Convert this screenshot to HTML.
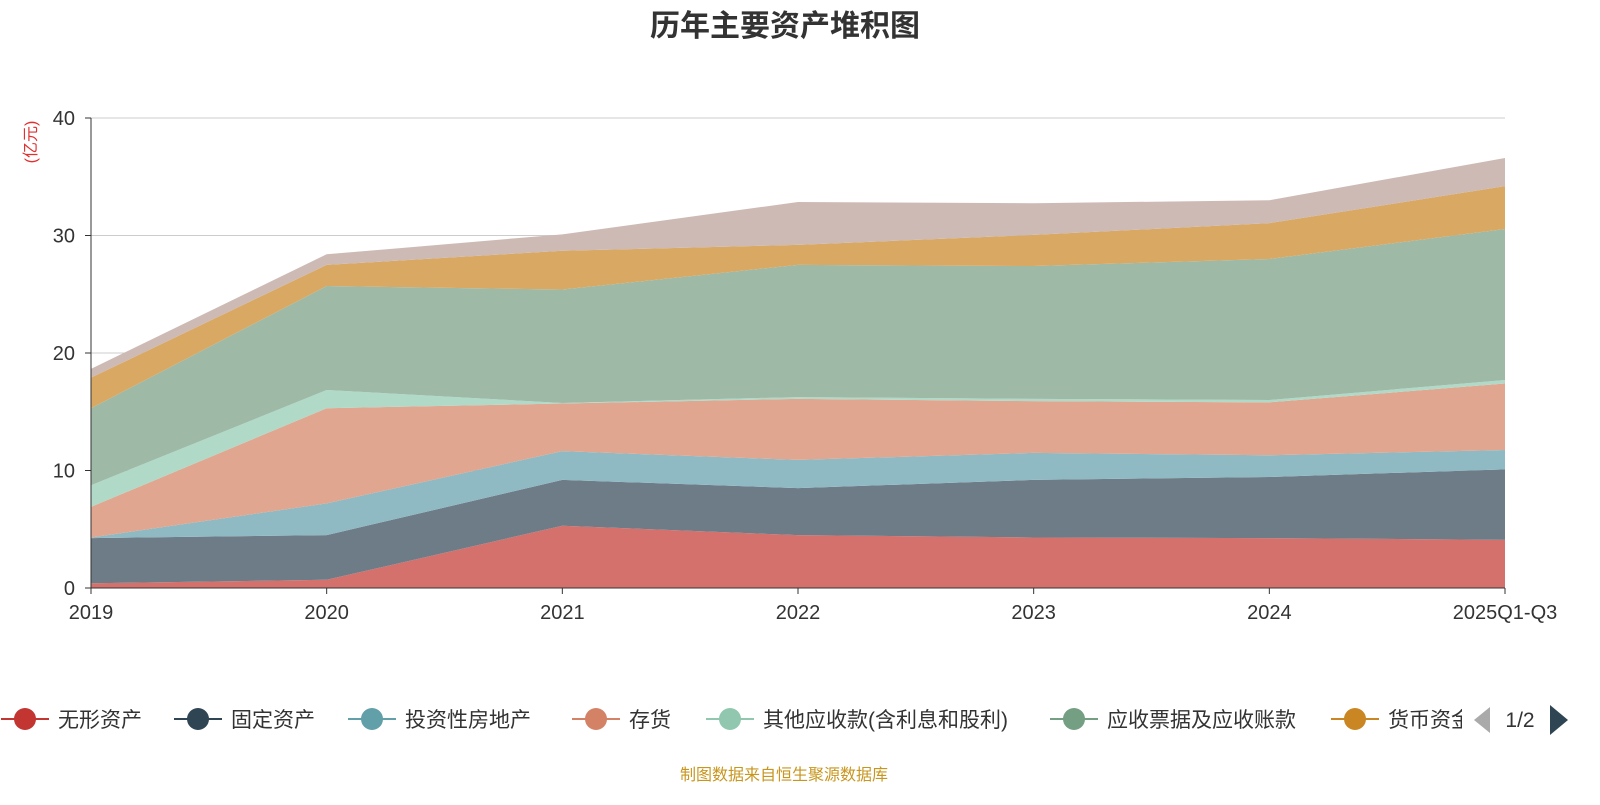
<!DOCTYPE html>
<html><head><meta charset="utf-8"><style>
body{margin:0;background:#fff;font-family:"Liberation Sans","Noto Sans CJK SC",sans-serif}
svg text{font-family:"Liberation Sans","Noto Sans CJK SC",sans-serif}
</style></head><body>
<svg id="c" width="1600" height="800">
<text x="785" y="36" text-anchor="middle" font-size="30" font-weight="bold" fill="#333">历年主要资产堆积图</text>
<text transform="translate(36,142) rotate(-90)" text-anchor="middle" font-size="16" fill="#e03030">(亿元)</text>
<g id="grid"></g><g id="areas"></g><g id="axes"></g><g id="legend"></g>
<text x="784" y="780" text-anchor="middle" font-size="16" fill="#c8961e">制图数据来自恒生聚源数据库</text>
</svg>
<script>
const categories=["2019","2020","2021","2022","2023","2024","2025Q1-Q3"];
const seriesNames=["无形资产","固定资产","投资性房地产","存货","其他应收款(含利息和股利)","应收票据及应收账款","货币资金","其他"];
const s1=[0.4,0.7,5.3,4.5,4.3,4.25,4.1];
const s2=[3.85,3.8,3.9,4.0,4.9,5.2,6.0];
const s3=[0.05,2.7,2.45,2.4,2.3,1.85,1.65];
const s4=[2.6,8.1,4.05,5.2,4.4,4.5,5.65];
const s5=[1.85,1.55,0.05,0.15,0.2,0.2,0.3];
const s6=[6.55,8.85,9.65,11.25,11.3,12.0,12.85];
const s7=[2.6,1.8,3.3,1.7,2.65,3.05,3.65];
const s8=[0.75,0.9,1.4,3.65,2.7,1.95,2.4];
const yTicks=[0,10,20,30,40];
const series=[s1,s2,s3,s4,s5,s6,s7,s8];
const fills=["#d4716d","#6e7c87","#8fbac3","#e0a690","#b0d9c7","#9ebaa7","#d9a863","#cdbab5"];
const legendColors=["#c23531","#2f4554","#61a0a8","#d48265","#91c7ae","#749f83","#ca8622"];
const NS="http://www.w3.org/2000/svg";
const x0=91,x1=1505,yB=588,yT=118;
const X=i=>x0+(x1-x0)*i/(categories.length-1);
const Y=v=>yB-(yB-yT)*v/40;
function el(t,a,p){const e=document.createElementNS(NS,t);for(const k in a)e.setAttribute(k,a[k]);p.appendChild(e);return e;}
const grid=document.getElementById('grid'),areas=document.getElementById('areas'),axes=document.getElementById('axes'),leg=document.getElementById('legend');
yTicks.forEach(t=>{
 if(t>0){const l=el('line',{x1:x0,x2:x1,y1:Y(t),y2:Y(t),stroke:'#ccc'},grid);
 
 }
 const tx=el('text',{x:x0-16,y:Y(t)+7,'text-anchor':'end','font-size':20,fill:'#333'},axes);tx.textContent=t;
 
 
 el('line',{x1:x0-6,x2:x0,y1:Y(t),y2:Y(t),stroke:'#333'},axes);
});
let base=categories.map(()=>0);
series.forEach((s,k)=>{
 const top=base.map((b,i)=>b+s[i]);
 let d='M'+top.map((v,i)=>X(i)+','+Y(v)).join('L')+'L'+base.map((v,i)=>[X(i),Y(v)]).reverse().map(p=>p.join(',')).join('L')+'Z';
 const p=el('path',{d:d,fill:fills[k]},areas);
 
 
 base=top;
});
el('line',{x1:x0,x2:x0,y1:yT,y2:yB,stroke:'#333'},axes);
el('line',{x1:x0,x2:x1,y1:yB,y2:yB,stroke:'#333'},axes);
categories.forEach((c,i)=>{
 el('line',{x1:X(i),x2:X(i),y1:yB,y2:yB+6,stroke:'#333'},axes);
 const t=el('text',{x:X(i),y:yB+31,'text-anchor':'middle','font-size':20,fill:'#333'},axes);t.textContent=c;
 
 
});
const lx=[25,198,372,596,730,1074,1355];
legendColors.forEach((c,i)=>{
 const g=el('g',{},leg);
 
 
 el('line',{x1:lx[i]-24,x2:lx[i]+24,y1:719,y2:719,stroke:c,'stroke-width':2},g);
 el('circle',{cx:lx[i],cy:719,r:11,fill:c},g);
 const t=el('text',{x:lx[i]+33,y:727,'font-size':21,fill:'#333'},g);t.textContent=seriesNames[i];
});
const cp=el('rect',{x:1462,y:700,width:20,height:40,fill:'#fff'},leg);
const pl=el('path',{d:'M1490,707L1474,720L1490,733Z',fill:'#aaa'},leg);


const pt=el('text',{x:1520,y:727,'text-anchor':'middle','font-size':21,fill:'#333'},leg);pt.textContent='1/2';


const pn=el('path',{d:'M1550,705L1568,720L1550,735Z',fill:'#2f4554'},leg);


</script>
</body></html>
